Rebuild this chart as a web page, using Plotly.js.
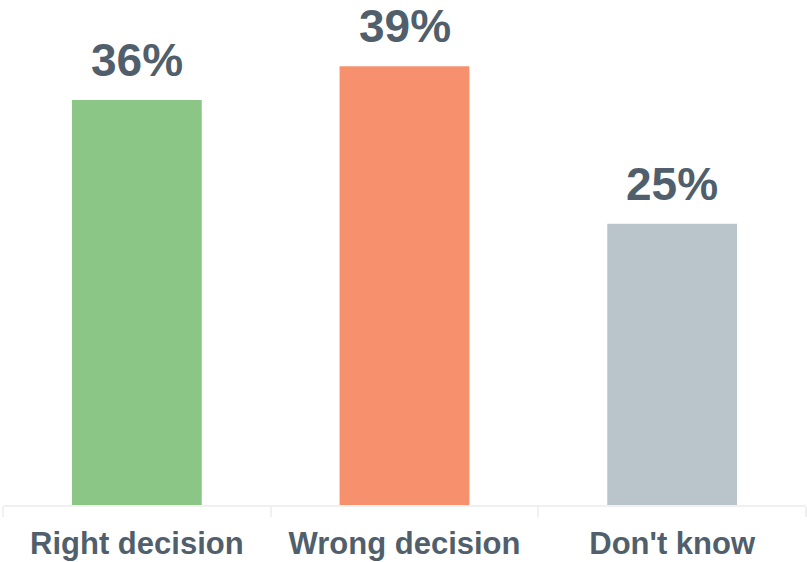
<!DOCTYPE html>
<html>
<head>
<meta charset="utf-8">
<script src="https://cdn.plot.ly/plotly-3.0.1.min.js"></script>
<style>html,body{margin:0;padding:0;background:#fff;}#chart{width:807px;height:562px;}</style>
</head>
<body>
<div id="chart"></div>
<script>
var categories = ["Right decision", "Wrong decision", "Don't know"];
var values = [36, 39, 25];
var valueLabels = ["36%", "39%", "25%"];
var barColors = ["#8bc686", "#f6906d", "#b9c4cb"];

var textColor = "#505f6b";
var fontFamily = "'Liberation Sans', Arial, sans-serif";

var trace = {
  type: "bar",
  x: categories,
  y: values,
  marker: { color: barColors, line: { width: 0 } },
  hoverinfo: "none"
};

var annotations = categories.map(function (c, i) {
  return {
    x: c, y: values[i], xref: "x", yref: "y",
    text: valueLabels[i], showarrow: false,
    yanchor: "bottom", yshift: 12,
    font: { family: fontFamily, size: 46, color: textColor, weight: 700 }
  };
});

var layout = {
  width: 807, height: 562,
  margin: { l: 3, r: 1, t: 10, b: 57 },
  paper_bgcolor: "#ffffff", plot_bgcolor: "#ffffff",
  bargap: 0.515,
  showlegend: false,
  xaxis: {
    type: "category",
    showline: true, linecolor: "#f0f0f0", linewidth: 2,
    ticks: "outside", tickson: "boundaries", ticklen: 10, tickwidth: 2, tickcolor: "#f0f0f0",
    ticklabelstandoff: 10,
    tickfont: { family: fontFamily, size: 31, color: textColor, weight: 700 },
    showgrid: false, zeroline: false, fixedrange: true
  },
  yaxis: {
    range: [0, 44], visible: false, showgrid: false, zeroline: false, fixedrange: true
  },
  annotations: annotations
};

Plotly.newPlot("chart", [trace], layout, { displayModeBar: false, staticPlot: true });
</script>
</body>
</html>
